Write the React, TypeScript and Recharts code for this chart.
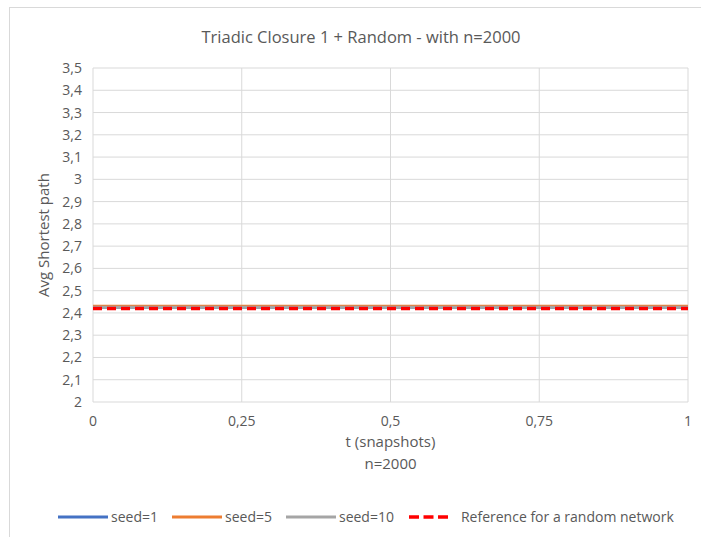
import React from "react";
import { LineChart, Line, XAxis, YAxis, CartesianGrid } from "recharts";

// Snapshot positions along the time axis
const snapshots = [0, 0.25, 0.5, 0.75, 1];

// Average shortest path per seed
const seed1 = [2.425, 2.425, 2.425, 2.425, 2.425];
const seed5 = [2.43, 2.43, 2.43, 2.43, 2.43];
const seed10 = [2.425, 2.425, 2.425, 2.425, 2.425];
const randomReference = [2.42, 2.42, 2.42, 2.42, 2.42];

const yTicks = [2, 2.1, 2.2, 2.3, 2.4, 2.5, 2.6, 2.7, 2.8, 2.9, 3, 3.1, 3.2, 3.3, 3.4, 3.5];
const xTicks = [0, 0.25, 0.5, 0.75, 1];

const title = "Triadic Closure 1 + Random - with n=2000";
const xTitle = "t (snapshots)";
const xSubTitle = "n=2000";
const yTitle = "Avg Shortest path";

const series = [
  { key: "s1", name: "seed=1", values: seed1, color: "#4472C4", dash: undefined as string | undefined, width: 3 },
  { key: "s5", name: "seed=5", values: seed5, color: "#ED7D31", dash: undefined as string | undefined, width: 3 },
  { key: "s10", name: "seed=10", values: seed10, color: "#A5A5A5", dash: undefined as string | undefined, width: 3 },
  { key: "ref", name: "Reference for a random network", values: randomReference, color: "#FF0000", dash: "9 5", width: 3.5 },
];

const data = snapshots.map((t, i) => {
  const row: Record<string, number> = { t };
  series.forEach((s) => {
    row[s.key] = s.values[i];
  });
  return row;
});

const FONT = "'Open Sans', 'Liberation Sans', sans-serif";
const TEXT = "#595959";

const comma = (v: number) => String(v).replace(".", ",");

const XTitle = (props: any) => {
  const vb = props.viewBox || {};
  const cx = vb.x + vb.width / 2;
  return (
    <g>
      <text x={cx} y={447} textAnchor="middle" fill={TEXT} fontSize={15} fontFamily={FONT}>
        {xTitle}
      </text>
      <text x={cx} y={469} textAnchor="middle" fill={TEXT} fontSize={15} fontFamily={FONT}>
        {xSubTitle}
      </text>
    </g>
  );
};

const YTitle = (props: any) => {
  const vb = props.viewBox || {};
  const cy = vb.y + vb.height / 2;
  return (
    <text
      x={49}
      y={cy}
      transform={`rotate(-90 49 ${cy})`}
      textAnchor="middle"
      fill={TEXT}
      fontSize={15}
      fontFamily={FONT}
    >
      {yTitle}
    </text>
  );
};

export default function App() {
  return (
    <div style={{ position: "absolute", left: 0, top: 0, width: 701, height: 537, overflow: "hidden", background: "#fff" }}>
      <div
        style={{
          position: "absolute",
          left: 9,
          top: 7,
          width: 720,
          height: 560,
          border: "1px solid #d9d9d9",
          boxSizing: "border-box",
        }}
      />
      <div
        style={{
          position: "absolute",
          left: 0,
          top: 25,
          width: 722,
          textAlign: "center",
          fontFamily: FONT,
          fontSize: 16.5,
          color: TEXT,
        }}
      >
        {title}
      </div>
      <div style={{ position: "absolute", left: 0, top: 0 }}>
        <LineChart width={701} height={537} data={data} margin={{ top: 68, right: 13, left: 43, bottom: 0 }}>
          <CartesianGrid stroke="#d9d9d9" strokeWidth={1} horizontal vertical />
          <XAxis
            dataKey="t"
            type="number"
            domain={[0, 1]}
            ticks={xTicks}
            tickFormatter={comma}
            axisLine={false}
            tickLine={false}
            tickSize={0}
            tickMargin={14}
            height={135}
            tick={{ fill: TEXT, fontSize: 14, fontFamily: FONT }}
            interval={0}
            label={<XTitle />}
          />
          <YAxis
            type="number"
            domain={[2, 3.5]}
            ticks={yTicks}
            tickFormatter={comma}
            axisLine={false}
            tickLine={false}
            tickSize={0}
            tickMargin={11}
            width={50}
            interval={0}
            tick={{ fill: TEXT, fontSize: 14, fontFamily: FONT }}
            label={<YTitle />}
          />
          {series.map((s) => (
            <Line
              key={s.key}
              dataKey={s.key}
              name={s.name}
              stroke={s.color}
              strokeWidth={s.width}
              strokeDasharray={s.dash}
              dot={false}
              activeDot={false}
              type="linear"
              isAnimationActive={false}
            />
          ))}
        </LineChart>
      </div>
      <div
        style={{
          position: "absolute",
          left: 58,
          top: 507,
          display: "flex",
          alignItems: "center",
          fontFamily: FONT,
          fontSize: 14,
          color: TEXT,
          whiteSpace: "nowrap",
        }}
      >
        {series.map((s) => (
          <div key={s.key} style={{ display: "flex", alignItems: "center", marginRight: 14 }}>
            <svg width={s.dash ? 40 : 50} height={8} style={{ marginRight: s.dash ? 13 : 3 }}>
              <line
                x1={s.dash ? 1 : 0}
                y1={4}
                x2={s.dash ? 40 : 50}
                y2={4}
                stroke={s.color}
                strokeWidth={s.width}
                strokeDasharray={s.dash ? "10 4.5" : undefined}
              />
            </svg>
            <span>{s.name}</span>
          </div>
        ))}
      </div>
    </div>
  );
}
